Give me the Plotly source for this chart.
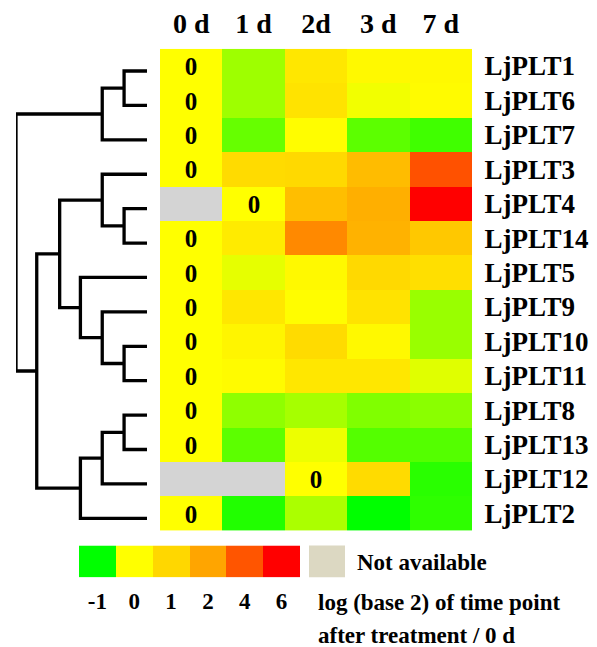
import plotly.graph_objects as go

# page body has an 8px margin: figure is drawn 8px in from the top-left
OFF = 8
W, H = 597 - OFF, 647 - OFF

genes = ["LjPLT1", "LjPLT6", "LjPLT7", "LjPLT3", "LjPLT4", "LjPLT14", "LjPLT5",
         "LjPLT9", "LjPLT10", "LjPLT11", "LjPLT8", "LjPLT13", "LjPLT12", "LjPLT2"]
days = ["0 d", "1 d", "2d", "3 d", "7 d"]

# log2(time point / 0 d); None = not available
log2_ratio = [
    [0, -0.38, 0.60, 0.15, 0.15],
    [0, -0.38, 0.70, -0.05, 0.10],
    [0, -0.60, 0.05, -0.64, -0.75],
    [0, 0.90, 0.95, 1.55, 4.10],
    [None, 0, 1.50, 1.80, 6.00],
    [0, 0.50, 2.70, 1.75, 1.30],
    [0, -0.10, 0.15, 0.95, 0.80],
    [0, 0.60, 0.05, 0.70, -0.40],
    [0, 0.25, 0.90, 0.15, -0.40],
    [0, 0.10, 0.60, 0.60, -0.12],
    [0, -0.44, -0.35, -0.50, -0.46],
    [0, -0.64, -0.07, -0.67, -0.67],
    [None, None, 0, 0.90, -0.84],
    [0, -0.87, -0.33, -1.00, -0.82],
]

# hierarchical clustering: (child a, child b, merge height); leaves 0..13, merges 14..
merges = [
    (0, 1, 1.05), (14, 2, 2.05),
    (4, 5, 1.05), (3, 16, 2.05),
    (8, 9, 1.05), (7, 18, 2.05), (6, 19, 3.05), (17, 20, 4.0),
    (10, 11, 1.05), (22, 12, 2.05), (23, 13, 3.05),
    (21, 24, 5.05), (15, 25, 6.0),
]

legend_values = [-1, 0, 1, 2, 4, 6]
legend_labels = ["-1", "0", "1", "2", "4", "6"]

vmin, vmax = -1, 6
colorscale = [
    [0.0, "#00FF00"],
    [1 / 7, "#FFFF00"],
    [2 / 7, "#FFD700"],
    [3 / 7, "#FFA500"],
    [5 / 7, "#FF5500"],
    [1.0, "#FF0000"],
]

FONT = "Liberation Serif"

z = [[float("nan") if v is None else v for v in row] for row in log2_ratio]
na = [[1 if v is None else None for v in row] for row in log2_ratio]
text = []
for row in log2_ratio:
    first = next(i for i, v in enumerate(row) if v is not None)
    text.append(["0" if i == first else "" for i in range(len(row))])

fig = go.Figure()

fig.add_trace(go.Heatmap(
    z=na, x=list(range(len(days))), y=list(range(len(genes))),
    colorscale=[[0, "#D4D4D4"], [1, "#D4D4D4"]], showscale=False,
    hoverinfo="skip", xaxis="x", yaxis="y"))

fig.add_trace(go.Heatmap(
    z=z, x=list(range(len(days))), y=list(range(len(genes))),
    zmin=vmin, zmax=vmax, colorscale=colorscale, showscale=False,
    text=text, texttemplate="%{text}",
    textfont=dict(family=FONT, size=25, color="black", weight="bold"),
    xaxis="x", yaxis="y"))

# dendrogram
pos = {i: (float(i), 0.0) for i in range(len(genes))}
for k, (a, b, h) in enumerate(merges):
    ya, ha = pos[a]
    yb, hb = pos[b]
    fig.add_trace(go.Scatter(
        x=[ha, h, h, hb], y=[ya, ya, yb, yb], mode="lines",
        line=dict(color="black", width=3.3), hoverinfo="skip",
        showlegend=False, xaxis="x2", yaxis="y2"))
    pos[len(genes) + k] = ((ya + yb) / 2, h)

# colour key
fig.add_trace(go.Heatmap(
    z=[legend_values], x=list(range(len(legend_values))), y=[0],
    zmin=vmin, zmax=vmax, colorscale=colorscale, showscale=False,
    hoverinfo="skip", xaxis="x3", yaxis="y3"))


def fx(p):
    return (p - OFF) / W


def fy(p):
    return 1 - (p - OFF) / H


headfont = dict(family=FONT, size=28, color="black", weight="bold")
genefont = dict(family=FONT, size=27, color="black", weight="bold")
keyfont = dict(family=FONT, size=23, color="black", weight="bold")

fig.update_layout(
    width=W, height=H, margin=dict(l=0, r=0, t=0, b=0),
    paper_bgcolor="white", plot_bgcolor="rgba(0,0,0,0)",
    showlegend=False,
    font=dict(family=FONT, color="black", weight="bold"),
    xaxis=dict(domain=[fx(160), fx(472)], range=[-0.5, 4.5], side="top",
               tickvals=list(range(len(days))), ticktext=days,
               tickfont=headfont, ticks="outside", ticklen=4,
               tickcolor="rgba(0,0,0,0)", showgrid=False, zeroline=False,
               showline=False, anchor="y", fixedrange=True),
    yaxis=dict(domain=[fy(530), fy(46)], range=[13.5, -0.5], side="right",
               tickvals=list(range(len(genes))), ticktext=genes,
               tickfont=genefont, ticks="outside", ticklen=6,
               tickcolor="rgba(0,0,0,0)", showgrid=False, zeroline=False,
               showline=False, anchor="x", fixedrange=True),
    xaxis2=dict(domain=[fx(16), fx(147)], range=[6.0, 0.0], visible=False,
                anchor="y2", fixedrange=True),
    yaxis2=dict(domain=[fy(535), fy(51)], range=[13.5, -0.5], visible=False,
                anchor="x2", fixedrange=True),
    xaxis3=dict(domain=[fx(79), fx(300)], range=[-0.5, 5.5],
                tickvals=list(range(len(legend_values))), ticktext=legend_labels,
                tickfont=keyfont,
                ticks="outside", ticklen=3, tickcolor="rgba(0,0,0,0)",
                showgrid=False, zeroline=False, showline=False, anchor="y3",
                fixedrange=True),
    yaxis3=dict(domain=[fy(577), fy(545)], range=[-0.5, 0.5], visible=False,
                anchor="x3", fixedrange=True),
    shapes=[dict(type="rect", xref="paper", yref="paper",
                 x0=fx(309), x1=fx(345), y0=fy(577), y1=fy(545),
                 fillcolor="#DCD8C2", line=dict(width=0))],
    annotations=[
        dict(text="Not available", x=fx(355), y=fy(562), xref="paper", yref="paper",
             xanchor="left", yanchor="middle", showarrow=False, font=keyfont),
        dict(text="log (base 2) of time point", x=fx(316), y=fy(602), xref="paper",
             yref="paper", xanchor="left", yanchor="middle", showarrow=False,
             font=keyfont),
        dict(text="after treatment / 0 d", x=fx(316), y=fy(635), xref="paper",
             yref="paper", xanchor="left", yanchor="middle", showarrow=False,
             font=keyfont),
    ],
)

fig.write_html("out.html")
